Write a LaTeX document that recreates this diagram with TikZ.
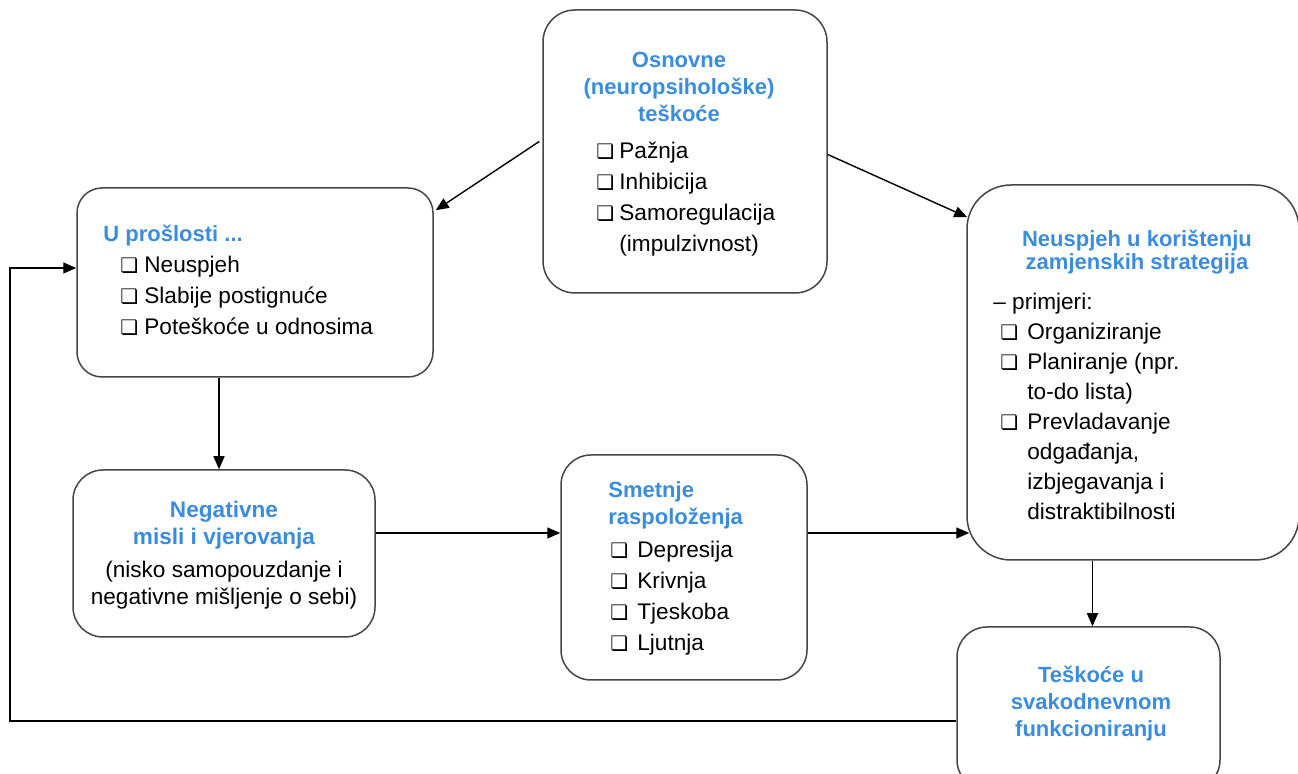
\documentclass[tikz,border=0pt]{standalone}
\usepackage{fontspec}
\setmainfont{Liberation Sans}
\newfontfamily\symfont{DejaVu Sans}
\usepackage{xcolor}
\usetikzlibrary{arrows.meta, positioning, calc}
\definecolor{titleblue}{HTML}{3A8DDE}
\definecolor{edgegray}{HTML}{454545}
\newcommand{\sq}{{\symfont\fontsize{10}{10}\selectfont\char"274F}}

\begin{document}
\begin{tikzpicture}[x=0.5pt, y=-0.5pt,
    card/.style={draw=edgegray, line width=0.75pt, rounded corners=#1},
    card/.default=15pt,
    ttl/.style={inner sep=0pt, text=titleblue, font=\fontsize{11}{13.5}\selectfont\bfseries},
    lst/.style={inner sep=0pt, font=\fontsize{11.3}{15.5}\selectfont},
    arr/.style={-{Triangle[length=6.5pt,width=5.5pt]}, line width=0.7pt}]
  \clip (0,0) rectangle (1298,774);

  % Boxes
  \node[card=16pt, minimum width=142pt, minimum height=141.5pt] (osn) at (685,151.5) {};
  \node[card=12.5pt, minimum width=178pt, minimum height=94.5pt] (past) at (255,282.5) {};
  \node[card=22pt, minimum width=166pt, minimum height=187.5pt] (strat) at (1133,372.5) {};
  \node[card, minimum width=151pt, minimum height=83.5pt] (neg) at (224,553.5) {};
  \node[card, minimum width=123pt, minimum height=112.5pt] (mood) at (684,567.5) {};
  \node[card, minimum width=131.5pt, minimum height=81.5pt] (daily) at (1088.5,708.5) {};

  % Osnovne teskoce
  \node[ttl, anchor=base] (osn-t) at (679,68)
    {\begin{tabular}[t]{@{}c@{}}Osnovne\\(neuropsihološke)\\teškoće\end{tabular}};
  \node[lst, anchor=base west] (osn-l) at (596,159)
    {\begin{tabular}[t]{@{}p{11.5pt}@{}l@{}}\sq & Pažnja\\ \sq & Inhibicija\\ \sq & Samoregulacija\\ & (impulzivnost)\end{tabular}};

  % U proslosti
  \node[ttl, anchor=base west] (past-t) at (103,242) {U prošlosti ...};
  \node[lst, anchor=base west] (past-l) at (120,273)
    {\begin{tabular}[t]{@{}p{12pt}@{}l@{}}\sq & Neuspjeh\\ \sq & Slabije postignuće\\ \sq & Poteškoće u odnosima\end{tabular}};

  % Zamjenske strategije
  \node[ttl, anchor=base, font=\fontsize{11}{11.5}\selectfont\bfseries] (strat-t) at (1137,247)
    {\begin{tabular}[t]{@{}c@{}}Neuspjeh u korištenju\\zamjenskih strategija\end{tabular}};
  \node[lst, anchor=base west, font=\fontsize{11.3}{15}\selectfont] (strat-l) at (1000,310)
    {\begin{tabular}[t]{@{}p{13.5pt}@{}l@{}}\multicolumn{2}{@{\hspace{-3.5pt}}l@{}}{– primjeri:}\\
      \sq & Organiziranje\\ \sq & Planiranje (npr.\\ & to-do lista)\\
      \sq & Prevladavanje\\ & odgađanja,\\ & izbjegavanja i\\ & distraktibilnosti\end{tabular}};

  % Negativne misli
  \node[lst, anchor=base, font=\fontsize{11.3}{13.5}\selectfont] (neg-t) at (224,518)
    {\begin{tabular}[t]{@{}c@{}}\textcolor{titleblue}{\bfseries Negativne}\\
      \textcolor{titleblue}{\bfseries misli i vjerovanja}\\[3pt]
      (nisko samopouzdanje i\\negativne mišljenje o sebi)\end{tabular}};

  % Smetnje raspolozenja
  \node[ttl, anchor=base west] (mood-t) at (608,498)
    {\begin{tabular}[t]{@{}l@{}}Smetnje\\raspoloženja\end{tabular}};
  \node[lst, anchor=base west] (mood-l) at (610,558)
    {\begin{tabular}[t]{@{}p{13.5pt}@{}l@{}}\sq & Depresija\\ \sq & Krivnja\\ \sq & Tjeskoba\\ \sq & Ljutnja\end{tabular}};

  % Svakodnevno funkcioniranje
  \node[ttl, anchor=base] (daily-t) at (1091,683)
    {\begin{tabular}[t]{@{}c@{}}Teškoće u\\svakodnevnom\\funkcioniranju\end{tabular}};

  % Connectors
  \draw[arr] ($(osn.west)+(-3,-10)$) -- ($(past.north east)+(2,23)$);
  \draw[arr] ($(osn.east)+(0,3)$) -- ($(strat.north west)+(1,33)$);
  \draw[arr] ($(past.south -| neg.north)+(-5,0)$) -- ($(neg.north)+(-5,0)$);
  \draw[arr] (neg.east |- 0,533) -- (mood.west |- 0,533);
  \draw[arr] (mood.east |- 0,533) -- ($(strat.west |- 0,533)+(3,0)$);
  \draw[arr] ($(strat.south -| daily.north)+(4,0)$) -- ($(daily.north)+(4,0)$);
  \coordinate (back) at (10,721);
  \draw[arr] (daily.west |- back) -- (back) |- (past.west |- 0,268);
\end{tikzpicture}
\end{document}
